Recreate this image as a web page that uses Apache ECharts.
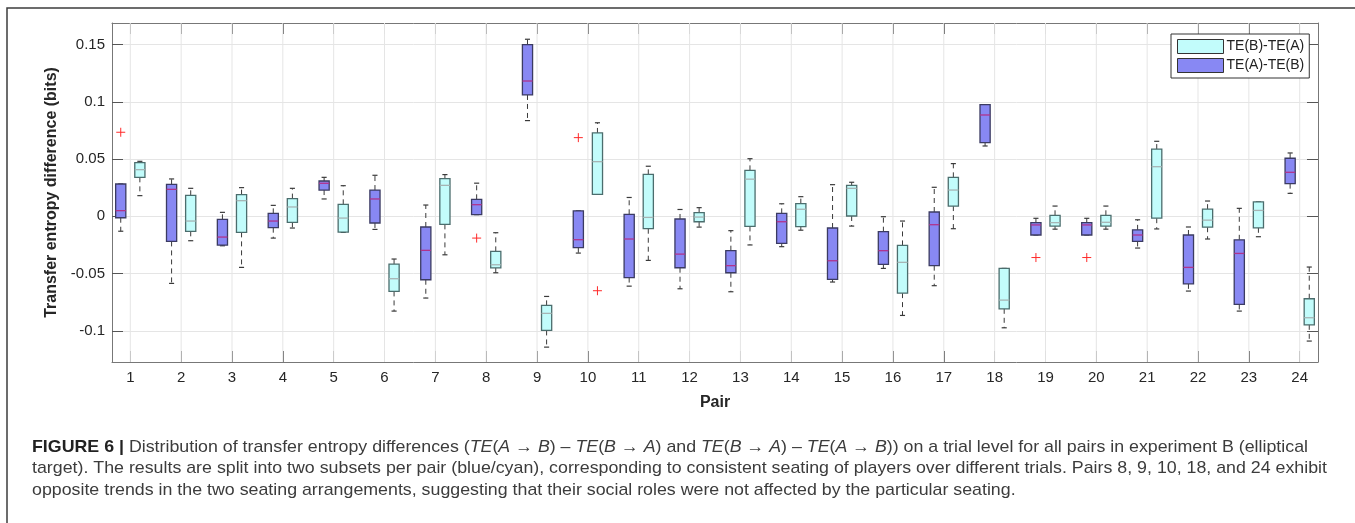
<!DOCTYPE html>
<html>
<head>
<meta charset="utf-8">
<script src="https://cdn.jsdelivr.net/npm/echarts@6/dist/echarts.min.js"></script>
<style>
html,body{margin:0;padding:0;background:#fff;}
#chart{width:1355px;height:523px;}
</style>
</head>
<body>
<div id="chart"></div>
<script>
// ---------------- DATA ----------------
const pairs = [1,2,3,4,5,6,7,8,9,10,11,12,13,14,15,16,17,18,19,20,21,22,23,24];
const yTicks = [-0.1,-0.05,0,0.05,0.1,0.15];
const seriesNames = ['TE(B)-TE(A)', 'TE(A)-TE(B)'];

// TE(A)-TE(B) (blue), per pair: [min, q1, median, q3, max]
const blueStats = [
  [-0.013, -0.0012, 0.005, 0.0283, 0.0283],
  [-0.0586, -0.0219, 0.0236, 0.028, 0.0327],
  [-0.0257, -0.0251, -0.0181, -0.0026, 0.0035],
  [-0.019, -0.0099, -0.0041, 0.0026, 0.0096],
  [0.0152, 0.023, 0.0289, 0.0309, 0.0341],
  [-0.0114, -0.0058, 0.0152, 0.023, 0.0359],
  [-0.0714, -0.0554, -0.0297, -0.0093, 0.0099],
  [0.0015, 0.0015, 0.0102, 0.0149, 0.029],
  [0.0837, 0.1061, 0.1183, 0.1501, 0.1548],
  [-0.0321, -0.0274, -0.0204, 0.0048, 0.0048],
  [-0.061, -0.0535, -0.0198, 0.0018, 0.0165],
  [-0.0633, -0.0449, -0.033, -0.0023, 0.006],
  [-0.0659, -0.0493, -0.0431, -0.03, -0.0125],
  [-0.0265, -0.0236, -0.0047, 0.0026, 0.011],
  [-0.0574, -0.0551, -0.0388, -0.0102, 0.0277],
  [-0.0455, -0.042, -0.03, -0.0134, -0.0003],
  [-0.0606, -0.0431, -0.0073, 0.0038, 0.0254],
  [0.0615, 0.0644, 0.0886, 0.0977, 0.0977],
  [-0.0163, -0.0163, -0.0075, -0.0055, -0.0017],
  [-0.0163, -0.0163, -0.0075, -0.0055, -0.0017],
  [-0.0277, -0.0219, -0.0163, -0.0118, -0.003],
  [-0.0653, -0.059, -0.0446, -0.0163, -0.0093],
  [-0.0828, -0.077, -0.0324, -0.0205, 0.007],
  [0.0201, 0.0286, 0.0385, 0.0508, 0.0554]
];
// TE(B)-TE(A) (cyan), per pair: [min, q1, median, q3, max]
const cyanStats = [
  [0.0181, 0.0341, 0.0408, 0.0469, 0.0481],
  [-0.0213, -0.0131, -0.0041, 0.0184, 0.0245],
  [-0.0446, -0.014, 0.0137, 0.019, 0.0251],
  [-0.0102, -0.0052, 0.0082, 0.0155, 0.0245],
  [-0.014, -0.0137, -0.0015, 0.0105, 0.0268],
  [-0.0828, -0.0656, -0.0545, -0.0417, -0.0373],
  [-0.0336, -0.007, 0.0271, 0.0329, 0.0365],
  [-0.0493, -0.045, -0.0423, -0.0306, -0.0143],
  [-0.1143, -0.0997, -0.0848, -0.0778, -0.07],
  [0.0192, 0.0192, 0.0478, 0.0729, 0.0818],
  [-0.0385, -0.0108, -0.0009, 0.0367, 0.0438],
  [-0.0094, -0.0047, -0.0006, 0.0033, 0.0076],
  [-0.025, -0.0088, 0.0325, 0.0402, 0.0504],
  [-0.0121, -0.009, 0.0062, 0.0111, 0.0172],
  [-0.0085, 0.0003, 0.0245, 0.0271, 0.0298],
  [-0.0866, -0.0671, -0.0402, -0.0254, -0.0041],
  [-0.0108, 0.009, 0.023, 0.0341, 0.0461],
  [-0.0974, -0.0808, -0.0732, -0.0455, -0.0455],
  [-0.0112, -0.0085, -0.0055, 0.0009, 0.009],
  [-0.0112, -0.0085, -0.0052, 0.0009, 0.009],
  [-0.011, -0.0016, 0.0434, 0.0588, 0.0656],
  [-0.0198, -0.0095, -0.0033, 0.0063, 0.0134],
  [-0.0178, -0.01, 0.0052, 0.0126, 0.0126],
  [-0.109, -0.0948, -0.0886, -0.072, -0.0443]
];
// outliers: [pair, value]
const blueOutliers = [[1, 0.0735], [8, -0.019], [10, 0.0688], [19, -0.036], [20, -0.036]];
const cyanOutliers = [[10, -0.065]];

const captionLines = [
  '{b|FIGURE 6 |} Distribution of transfer entropy differences ({i|TE}({i|A} → {i|B}) – {i|TE}({i|B} → {i|A}) and {i|TE}({i|B} → {i|A}) – {i|TE}({i|A} → {i|B})) on a trial level for all pairs in experiment B (elliptical',
  'target). The results are split into two subsets per pair (blue/cyan), corresponding to consistent seating of players over different trials. Pairs 8, 9, 10, 18, and 24 exhibit',
  'opposite trends in the two seating arrangements, suggesting that their social roles were not affected by the particular seating.'
];

// ---------------- STYLE / LAYOUT ----------------
const X_MIN = 0.64, X_MAX = 24.36, Y_MIN = -0.1273, Y_MAX = 0.169;
const BOX_W = 0.2, OFFSET = 0.188;
const blueFill = '#8888f3', blueEdge = '#3b3b62', blueMed = '#b0338c';
const cyanFill = '#c2fcfb', cyanEdge = '#4b6d6d', cyanMed = '#a6b4b4';
const whiskerColor = '#3a3a3a';
const gridColor = '#e5e5e5';
const axisColor = '#777777';
const tickColor = '#555555';
const textColor = '#262626';

const capFont = '"Liberation Sans", Arial, sans-serif';
const capSize = 17;

function makeBoxRender(offset, fill, edge, med) {
  return function (params, api) {
    const p = api.value(0) + offset;
    const mn = api.value(1), q1 = api.value(2), md = api.value(3), q3 = api.value(4), mx = api.value(5);
    const w = api.size([BOX_W, 0])[0];
    const hw = w / 2, cw = w * 0.25;
    const x = api.coord([p, q1])[0];
    const yq1 = api.coord([p, q1])[1], yq3 = api.coord([p, q3])[1];
    const ymd = api.coord([p, md])[1], ymn = api.coord([p, mn])[1], ymx = api.coord([p, mx])[1];
    const dash = { stroke: whiskerColor, lineWidth: 1, lineDash: [5, 4] };
    const solid = { stroke: whiskerColor, lineWidth: 1.2 };
    const children = [];
    if (ymx < yq3 - 0.5) children.push({ type: 'line', shape: { x1: x, y1: yq3, x2: x, y2: ymx }, style: dash });
    if (ymn > yq1 + 0.5) children.push({ type: 'line', shape: { x1: x, y1: yq1, x2: x, y2: ymn }, style: dash });
    children.push({ type: 'line', shape: { x1: x - cw, y1: ymx, x2: x + cw, y2: ymx }, style: solid });
    children.push({ type: 'line', shape: { x1: x - cw, y1: ymn, x2: x + cw, y2: ymn }, style: solid });
    children.push({ type: 'rect', shape: { x: x - hw, y: yq3, width: w, height: yq1 - yq3 },
      style: { fill: fill, stroke: edge, lineWidth: 1.3 } });
    children.push({ type: 'line', shape: { x1: x - hw, y1: ymd, x2: x + hw, y2: ymd }, style: { stroke: med, lineWidth: 1.3 } });
    return { type: 'group', children: children };
  };
}

function makeOutlierRender(offset) {
  return function (params, api) {
    const c = api.coord([api.value(0) + offset, api.value(1)]);
    const s = 4.5;
    const st = { stroke: '#ff2a2a', lineWidth: 1 };
    return { type: 'group', children: [
      { type: 'line', shape: { x1: c[0] - s, y1: c[1], x2: c[0] + s, y2: c[1] }, style: st },
      { type: 'line', shape: { x1: c[0], y1: c[1] - s, x2: c[0], y2: c[1] + s }, style: st }
    ] };
  };
}

function gridRender(params, api) {
  const cs = params.coordSys;
  const x = api.coord([api.value(0), 0])[0];
  return { type: 'line', shape: { x1: x, y1: cs.y, x2: x, y2: cs.y + cs.height },
    style: { stroke: gridColor, lineWidth: 1 } };
}

// caption measurement -> horizontal scale to match the reference's condensed face
const mctx = document.createElement('canvas').getContext('2d');
function measureRich(str) {
  const re = /\{(\w)\|([^}]*)\}/g;
  let last = 0, w = 0, m;
  const seg = (t, tag) => {
    const weight = tag === 'b' ? 'bold ' : '';
    const style = tag === 'i' ? 'italic ' : '';
    mctx.font = style + weight + capSize + 'px ' + capFont;
    w += mctx.measureText(t).width;
  };
  while ((m = re.exec(str)) !== null) {
    if (m.index > last) seg(str.slice(last, m.index), '');
    seg(m[2], m[1]);
    last = re.lastIndex;
  }
  if (last < str.length) seg(str.slice(last), '');
  return w;
}
const capScale = 1295 / measureRich(captionLines[1]);
const capY = [447, 468.5, 490];

const graphics = [
  { type: 'rect', shape: { x: 7, y: 8, width: 1360, height: 540 }, silent: true,
    style: { fill: 'none', stroke: '#3d3d3d', lineWidth: 1.5 }, z: 0 }
];
captionLines.forEach((t, i) => {
  graphics.push({
    type: 'text', x: 32, y: capY[i], scaleX: capScale, silent: true,
    style: {
      text: t, fontFamily: capFont, fontSize: capSize, fill: '#3c3c3c', verticalAlign: 'middle', align: 'left',
      rich: {
        b: { fontWeight: 'bold', fill: '#222', fontSize: capSize, fontFamily: capFont },
        i: { fontStyle: 'italic', fill: '#3c3c3c', fontSize: capSize, fontFamily: capFont }
      }
    }
  });
});

const blueData = pairs.map((p, i) => [p].concat(blueStats[i]));
const cyanData = pairs.map((p, i) => [p].concat(cyanStats[i]));

const axisLabelFmt = v => String(+Number(v).toFixed(2));

const option = {
  animation: false,
  backgroundColor: '#fff',
  textStyle: { fontFamily: '"Liberation Sans", Arial, sans-serif' },
  grid: { left: 112, right: 37, top: 23, bottom: 161, containLabel: false },
  legend: {
    data: seriesNames,
    orient: 'vertical',
    left: 1171, top: 34,
    icon: 'rect',
    itemWidth: 46, itemHeight: 14, itemGap: 4,
    padding: [5, 5, 5, 6],
    backgroundColor: '#fff',
    borderColor: '#333', borderWidth: 1,
    itemStyle: { borderColor: '#333', borderWidth: 1 },
    textStyle: { fontSize: 14, color: '#222', padding: [0, 0, 0, -2] },
    selectedMode: false
  },
  xAxis: [
    {
      type: 'value', min: X_MIN, max: X_MAX, position: 'bottom',
      name: 'Pair', nameLocation: 'middle', nameGap: 33,
      nameTextStyle: { fontSize: 16, fontWeight: 'bold', color: textColor },
      axisLine: { show: true, onZero: false, lineStyle: { color: axisColor, width: 1 } },
      axisTick: { show: true, inside: true, length: 11, customValues: pairs, lineStyle: { color: tickColor } },
      axisLabel: { customValues: pairs, fontSize: 15, color: textColor, margin: 8 },
      splitLine: { show: false }
    },
    {
      type: 'value', min: X_MIN, max: X_MAX, position: 'top',
      axisLine: { show: true, onZero: false, lineStyle: { color: axisColor, width: 1 } },
      axisTick: { show: true, inside: true, length: 11, customValues: pairs, lineStyle: { color: tickColor } },
      axisLabel: { show: false },
      splitLine: { show: false }
    }
  ],
  yAxis: [
    {
      type: 'value', min: Y_MIN, max: Y_MAX, position: 'left',
      name: 'Transfer entropy difference (bits)', nameLocation: 'middle', nameGap: 49,
      nameTextStyle: { fontSize: 16, fontWeight: 'bold', color: textColor },
      axisLine: { show: true, onZero: false, lineStyle: { color: axisColor, width: 1 } },
      axisTick: { show: true, inside: true, length: 11, customValues: yTicks, lineStyle: { color: tickColor } },
      axisLabel: { customValues: yTicks, fontSize: 15, color: textColor, margin: 7, formatter: axisLabelFmt },
      splitLine: { show: true, lineStyle: { color: gridColor, width: 1 } }
    },
    {
      type: 'value', min: Y_MIN, max: Y_MAX, position: 'right',
      axisLine: { show: true, onZero: false, lineStyle: { color: axisColor, width: 1 } },
      axisTick: { show: true, inside: true, length: 11, customValues: yTicks, lineStyle: { color: tickColor } },
      axisLabel: { show: false },
      splitLine: { show: false }
    }
  ],
  series: [
    {
      name: 'vgrid', type: 'custom', renderItem: gridRender, data: pairs.map(p => [p]),
      encode: { x: 0 }, z: 1, silent: true
    },
    {
      name: seriesNames[1], type: 'custom', renderItem: makeBoxRender(-OFFSET, blueFill, blueEdge, blueMed),
      data: blueData, encode: { x: 0, y: [1, 2, 3, 4, 5] }, z: 3,
      itemStyle: { color: blueFill, borderColor: '#333', borderWidth: 1 }
    },
    {
      name: seriesNames[0], type: 'custom', renderItem: makeBoxRender(OFFSET, cyanFill, cyanEdge, cyanMed),
      data: cyanData, encode: { x: 0, y: [1, 2, 3, 4, 5] }, z: 3,
      itemStyle: { color: cyanFill, borderColor: '#333', borderWidth: 1 }
    },
    {
      name: 'blueOut', type: 'custom', renderItem: makeOutlierRender(-OFFSET),
      data: blueOutliers, encode: { x: 0, y: 1 }, z: 4
    },
    {
      name: 'cyanOut', type: 'custom', renderItem: makeOutlierRender(OFFSET),
      data: cyanOutliers, encode: { x: 0, y: 1 }, z: 4
    }
  ],
  graphic: graphics
};

const chart = echarts.init(document.getElementById('chart'), null, { renderer: 'canvas' });
chart.setOption(option);
</script>
</body>
</html>
